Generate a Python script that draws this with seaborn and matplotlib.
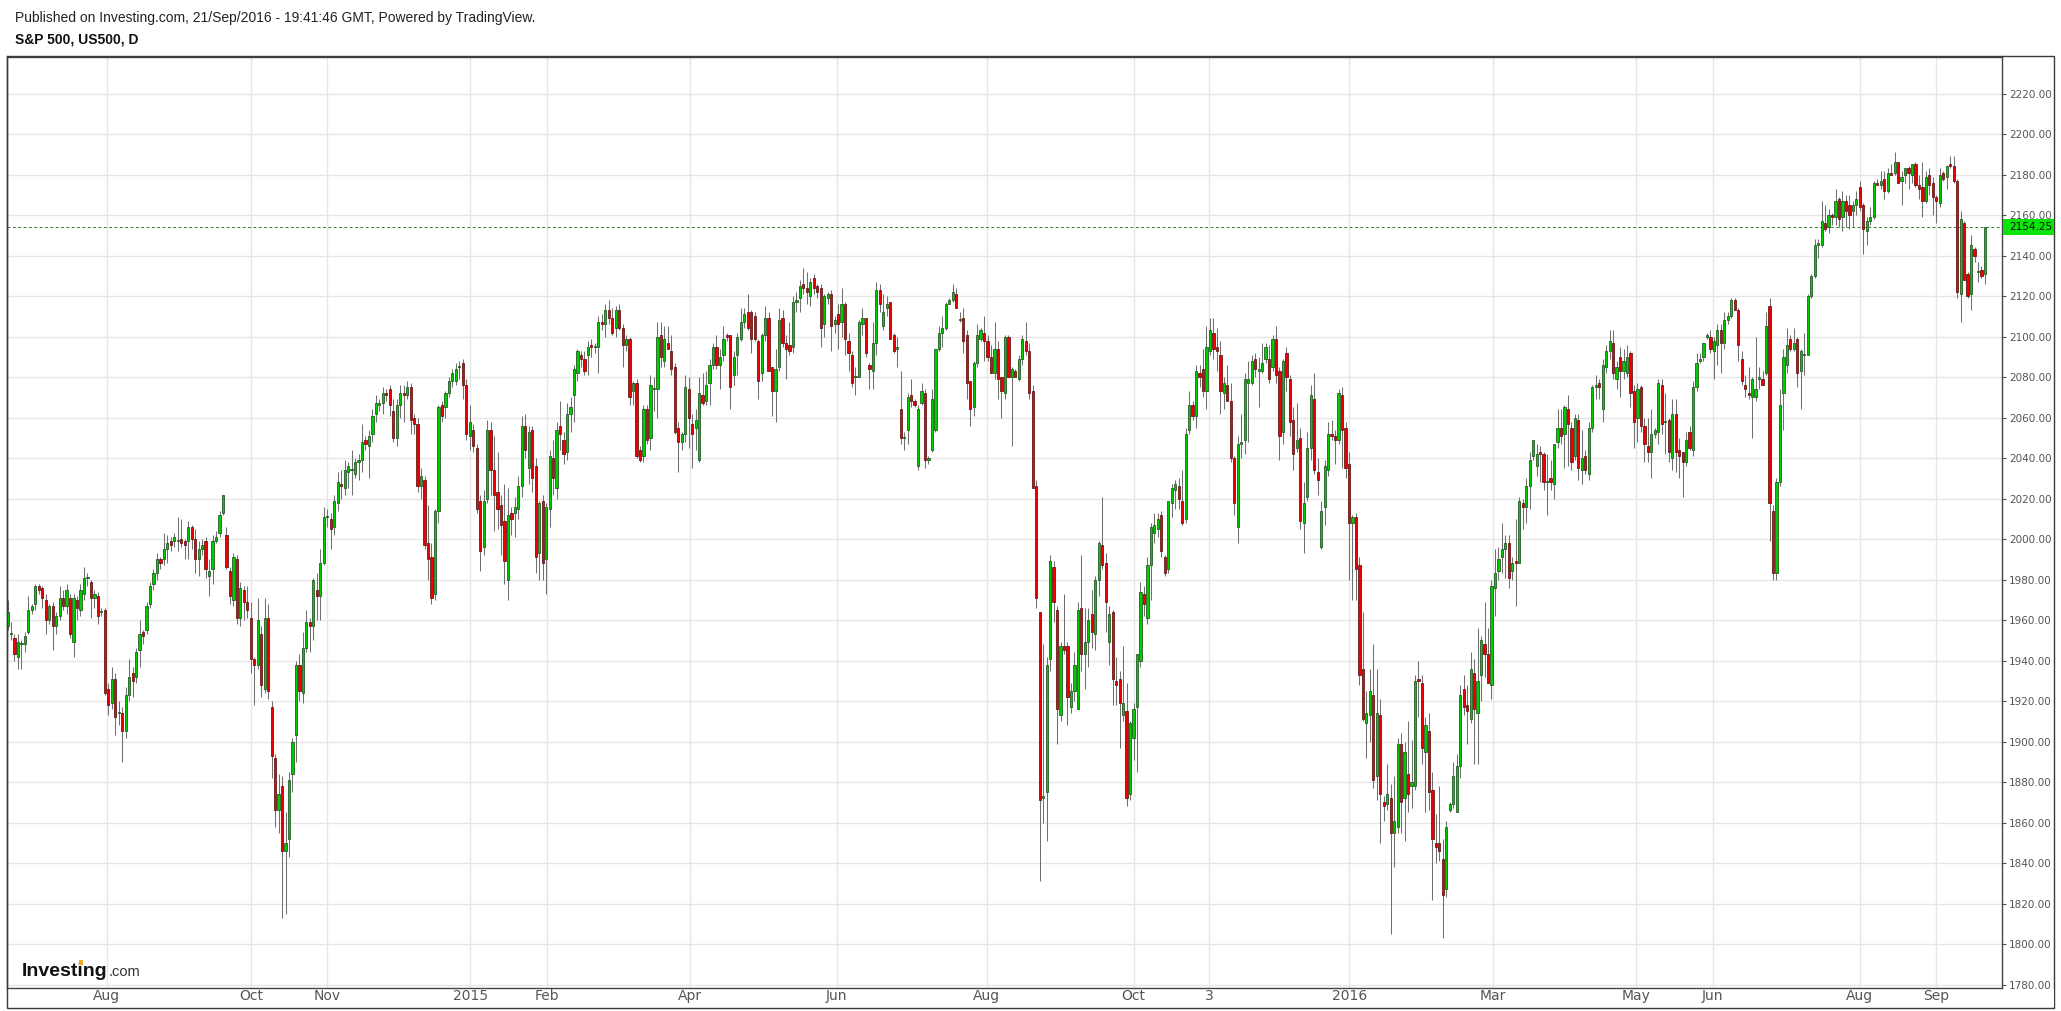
import numpy as np
import pandas as pd
import matplotlib
matplotlib.use("Agg")
import matplotlib.pyplot as plt
import seaborn as sns
from matplotlib.patches import Rectangle

# daily candles, (open, high, low, close), one list per month-gridline span
jun_jul14 = [
    (1957,1970,1955,1964),(1953,1959,1950,1953),(1951,1953,1940,1943),(1942,1953,1936,1949),
    (1948,1950,1936,1948),(1948,1954,1944,1952),(1954,1972,1953,1965),(1965,1968,1963,1967),
    (1968,1978,1965,1977),(1977,1978,1973,1975),(1976,1977,1966,1971),(1970,1973,1953,1960),
    (1960,1968,1958,1967),(1967,1969,1945,1957),(1957,1964,1953,1962),(1962,1977,1960,1971),
    (1971,1975,1965,1967),(1967,1978,1963,1975),(1971,1973,1951,1953),(1949,1973,1942,1971),
    (1970,1972,1960,1966),(1965,1978,1962,1975),(1973,1986,1970,1981),(1981,1983,1977,1981),
    (1979,1980,1961,1971),(1971,1975,1966,1973),(1972,1974,1958,1962),(1964,1966,1962,1964),
    (1965,1966,1923,1924),
]
aug_sep14 = [
    (1926,1929,1913,1918),(1919,1937,1916,1931),(1931,1934,1903,1912),(1914,1920,1908,1914),
    (1914,1917,1890,1905),(1905,1927,1902,1923),(1923,1941,1920,1932),(1934,1937,1922,1930),
    (1932,1946,1929,1944),(1945,1960,1937,1953),(1954,1955,1948,1952),(1955,1969,1953,1967),
    (1968,1979,1966,1977),(1978,1985,1975,1983),(1983,1993,1980,1990),(1990,1991,1985,1988),
    (1990,2003,1987,1995),(1995,2002,1988,1998),(1999,2001,1994,1997),(1999,2003,1996,2001),
    (1999,2011,1994,1999),(2000,2010,1996,1998),(1999,2000,1990,1997),(1999,2009,1990,2006),
    (2006,2007,1995,2000),(2000,2005,1983,1990),(1990,1999,1982,1995),(1995,2000,1992,1997),
    (1999,2001,1981,1985),(1982,1990,1972,1984),(1985,2002,1978,1999),(1999,2004,1998,2001),
    (2003,2014,2001,2012),(2013,2022,2012,2022),(2002,2006,1985,1986),(1984,1986,1968,1972),
    (1970,1993,1967,1991),(1990,1992,1958,1961),(1961,1979,1957,1976),(1975,1977,1960,1969),
    (1969,1977,1961,1965),(1961,1969,1934,1941),
]
oct14 = [
    (1941,1942,1918,1938),(1938,1971,1936,1960),(1953,1957,1922,1928),(1926,1971,1924,1961),
    (1961,1968,1921,1925),(1917,1920,1882,1893),(1892,1894,1858,1866),(1866,1884,1855,1874),
    (1878,1883,1813,1846),(1846,1865,1815,1850),(1852,1885,1843,1881),(1884,1902,1875,1900),
    (1903,1940,1890,1938),(1938,1943,1920,1925),(1924,1954,1919,1946),(1946,1965,1944,1959),
    (1959,1961,1944,1957),(1957,1981,1950,1980),(1975,1983,1960,1972),(1972,1995,1960,1988),
    (1988,2016,1987,2011),
]
nov_dec14 = [
    (2011,2015,2006,2011),(2010,2013,1995,2005),(2006,2022,2002,2019),(2018,2033,2014,2028),
    (2027,2034,2020,2026),(2025,2039,2022,2034),(2033,2038,2025,2036),(2034,2044,2022,2034),
    (2032,2040,2030,2038),(2038,2042,2029,2039),(2039,2057,2033,2048),(2049,2051,2044,2047),
    (2046,2054,2030,2051),(2052,2064,2048,2061),(2062,2071,2058,2067),(2066,2069,2063,2067),
    (2067,2075,2062,2072),(2072,2074,2068,2071),(2074,2076,2061,2066),(2063,2069,2048,2050),
    (2050,2069,2046,2066),(2066,2076,2060,2072),(2072,2076,2058,2071),(2071,2078,2069,2075),
    (2075,2077,2052,2059),(2060,2062,2052,2057),(2057,2060,2023,2026),(2026,2035,2020,2031),
    (2029,2031,1995,1997),(1998,2017,1980,1990),(1991,1998,1968,1971),(1973,2015,1970,2014),
    (2014,2066,2008,2065),(2066,2068,2058,2061),(2065,2073,2060,2072),(2072,2080,2070,2078),
    (2078,2084,2075,2082),(2078,2087,2076,2084),(2085,2088,2079,2085),(2087,2089,2069,2076),
    (2076,2079,2049,2052),(2051,2066,2044,2058),
]
jan15 = [
    (2054,2057,2043,2046),(2045,2047,2013,2015),(2019,2022,1984,1994),(1996,2024,1992,2019),
    (2020,2059,2018,2054),(2054,2058,2022,2034),(2034,2051,2004,2022),(2023,2043,2005,2015),
    (2017,2022,1992,2007),(2009,2027,1978,1989),(1980,2025,1970,2012),(2013,2016,2002,2010),
    (2013,2021,2001,2016),(2015,2031,2010,2026),(2026,2061,2021,2056),(2056,2062,2040,2044),
    (2035,2056,2027,2053),(2054,2056,2023,2030),(2036,2040,1983,1991),(1993,2019,1980,2018),
    (2019,2022,1980,1988),(1990,2018,1973,2016),
]
feb_mar15 = [
    (2015,2044,2006,2041),(2040,2049,2022,2030),(2025,2058,2020,2054),(2056,2068,2044,2052),
    (2049,2053,2037,2042),(2043,2067,2039,2062),(2062,2070,2053,2065),(2071,2086,2058,2084),
    (2082,2094,2078,2093),(2091,2093,2085,2089),(2089,2093,2081,2083),(2091,2098,2081,2095),
    (2096,2099,2090,2095),(2095,2097,2092,2095),(2095,2110,2082,2107),(2107,2111,2103,2106),
    (2106,2116,2100,2113),(2113,2118,2106,2109),(2109,2114,2101,2102),(2104,2115,2100,2113),
    (2113,2116,2103,2104),(2104,2106,2085,2096),(2096,2101,2093,2099),(2099,2100,2066,2070),
    (2073,2078,2066,2077),(2077,2079,2040,2041),(2044,2046,2038,2039),(2041,2066,2038,2064),
    (2064,2066,2047,2049),(2050,2081,2044,2076),(2074,2080,2063,2074),(2074,2107,2060,2100),
    (2101,2107,2085,2090),(2088,2105,2085,2099),(2097,2105,2094,2094),(2093,2101,2081,2084),
    (2085,2087,2052,2053),(2055,2058,2033,2048),(2048,2053,2044,2052),(2052,2081,2048,2075),
    (2074,2080,2045,2060),
]
apr_may15 = [
    (2057,2062,2035,2052),(2055,2064,2044,2059),(2039,2080,2038,2072),(2071,2082,2066,2067),
    (2068,2083,2066,2076),(2077,2089,2066,2086),(2086,2097,2084,2095),(2095,2101,2084,2086),
    (2086,2094,2074,2090),(2091,2105,2088,2099),(2101,2102,2098,2100),(2101,2101,2064,2075),
    (2081,2093,2076,2090),(2091,2102,2081,2100),(2099,2114,2098,2107),(2107,2114,2104,2111),
    (2112,2121,2103,2104),(2112,2113,2092,2099),(2110,2112,2098,2099),(2098,2099,2069,2078),
    (2082,2102,2078,2101),(2101,2115,2098,2109),(2109,2112,2083,2083),(2085,2085,2061,2073),
    (2073,2094,2058,2084),(2085,2114,2083,2108),(2109,2113,2095,2097),(2097,2101,2079,2094),
    (2096,2107,2091,2093),(2095,2120,2092,2117),(2117,2122,2112,2118),(2119,2128,2112,2125),
    (2126,2134,2121,2124),(2124,2132,2116,2122),(2120,2129,2115,2127),(2129,2131,2121,2124),
    (2125,2126,2119,2122),(2124,2126,2095,2104),(2106,2121,2100,2120),(2119,2122,2116,2121),
    (2121,2123,2093,2105),(2106,2110,2102,2108),
]
jun_jul15 = [
    (2111,2116,2094,2106),(2107,2124,2100,2116),(2116,2117,2091,2099),(2098,2102,2083,2092),
    (2091,2093,2075,2077),(2080,2085,2071,2080),(2080,2108,2080,2107),(2106,2114,2101,2109),
    (2109,2109,2090,2092),(2086,2087,2074,2084),(2083,2107,2074,2097),(2097,2127,2091,2123),
    (2123,2126,2112,2116),(2105,2121,2103,2112),(2114,2120,2110,2116),(2117,2117,2099,2099),
    (2101,2102,2092,2093),(2094,2100,2085,2095),(2064,2083,2047,2050),(2050,2053,2044,2050),
    (2054,2072,2047,2070),(2071,2079,2065,2068),(2068,2069,2065,2066),(2036,2066,2034,2064),
    (2067,2077,2066,2073),(2072,2074,2035,2039),(2039,2041,2037,2040),(2044,2074,2043,2069),
    (2054,2094,2053,2094),(2094,2105,2093,2102),(2102,2110,2095,2104),(2104,2117,2103,2116),
    (2116,2119,2116,2118),(2118,2126,2117,2122),(2121,2124,2114,2114),(2108,2112,2107,2108),
    (2109,2114,2092,2098),(2101,2103,2069,2077),(2078,2078,2056,2064),(2065,2088,2061,2087),
    (2087,2106,2085,2101),(2099,2104,2098,2103),(2102,2110,2088,2098),
]
aug_sep15 = [
    (2098,2101,2088,2090),(2090,2096,2082,2082),(2082,2107,2079,2094),(2094,2098,2069,2079),
    (2080,2080,2060,2073),(2072,2101,2069,2100),(2100,2101,2080,2080),(2080,2085,2046,2084),
    (2083,2084,2081,2080),(2079,2091,2078,2089),(2089,2101,2086,2099),(2098,2107,2091,2093),
    (2093,2097,2069,2072),(2073,2076,2025,2025),(2026,2029,1966,1971),(1964,1964,1831,1871),
    (1872,1948,1860,1873),(1875,1942,1851,1938),(1941,1992,1935,1989),(1986,1989,1959,1969),
    (1965,1967,1899,1916),(1913,1949,1910,1947),(1947,1973,1943,1945),(1947,1949,1908,1922),
    (1917,1929,1914,1925),(1925,1944,1920,1938),(1916,1969,1916,1965),(1966,1992,1935,1943),
    (1943,1966,1926,1949),(1949,1966,1937,1960),(1963,1975,1946,1954),(1953,1982,1945,1980),
    (1980,1999,1972,1998),(1997,2021,1985,1987),(1988,1993,1954,1969),(1949,1967,1938,1963),
    (1964,1965,1918,1931),(1930,1942,1918,1928),(1931,1935,1897,1919),(1913,1947,1910,1919),
    (1915,1929,1868,1872),(1874,1910,1871,1909),
]
oct15 = [
    (1902,1919,1891,1916),(1917,1943,1885,1943),(1940,1979,1937,1974),(1973,1977,1962,1968),
    (1961,1991,1958,1987),(1987,2008,1970,2006),(2003,2013,1998,2007),(2005,2013,2001,2010),
    (2012,2014,1991,1994),(1991,1992,1982,1983),(1985,2019,1983,2019),(2018,2027,2011,2025),
    (2024,2029,2015,2027),(2026,2030,2015,2020),(2019,2034,2007,2008),(2010,2055,2008,2052),
    (2054,2073,2052,2066),(2066,2068,2059,2061),(2061,2086,2055,2083),(2082,2086,2075,2080),
    (2084,2094,2070,2073),(2073,2105,2064,2095),
]
nov_dec15 = [
    (2093,2109,2091,2103),(2102,2109,2089,2094),(2095,2104,2083,2093),(2091,2098,2062,2073),
    (2072,2080,2064,2077),(2076,2086,2068,2068),(2068,2077,2038,2040),(2040,2041,2012,2018),
    (2006,2051,1998,2047),(2047,2062,2040,2048),(2049,2082,2042,2079),(2077,2088,2048,2079),
    (2077,2091,2076,2088),(2089,2092,2080,2084),(2083,2090,2065,2084),(2083,2097,2082,2087),
    (2089,2097,2087,2095),(2089,2096,2077,2079),(2085,2101,2083,2099),(2099,2105,2077,2081),
    (2083,2085,2039,2051),(2053,2089,2047,2088),(2092,2095,2073,2080),(2079,2081,2051,2058),
    (2059,2065,2034,2042),(2045,2067,2043,2049),(2050,2055,2005,2009),(2008,2028,1993,2018),
    (2021,2053,2019,2045),(2045,2076,2039,2071),(2069,2082,2032,2034),(2033,2040,2022,2029),
    (1996,2019,1995,2014),(2016,2039,2007,2036),(2034,2058,2031,2052),(2052,2059,2049,2051),
    (2051,2054,2037,2049),(2049,2074,2047,2072),(2071,2075,2035,2054),(2055,2058,2030,2035),
]
jan_feb16 = [
    (2037,2043,1980,2008),(2008,2012,1970,2011),(2011,2013,1970,1985),(1987,1991,1928,1933),
    (1936,1964,1910,1911),(1909,1925,1892,1914),(1913,1936,1900,1925),(1923,1948,1877,1881),
    (1883,1936,1871,1914),(1913,1921,1850,1874),(1870,1873,1861,1868),(1869,1889,1866,1874),
    (1872,1879,1805,1855),(1855,1883,1838,1861),(1858,1902,1855,1899),(1899,1904,1855,1870),
    (1872,1900,1851,1895),(1884,1910,1865,1874),(1878,1901,1867,1880),(1878,1933,1876,1930),
    (1931,1940,1912,1930),(1929,1933,1889,1897),(1895,1912,1865,1908),(1905,1914,1866,1875),
    (1876,1885,1822,1852),(1850,1864,1840,1848),(1850,1878,1841,1846),(1842,1852,1803,1824),
    (1827,1861,1823,1858),(1866,1870,1865,1869),(1869,1890,1867,1883),(1865,1894,1865,1888),
    (1888,1928,1882,1923),(1926,1933,1913,1917),(1918,1928,1899,1915),(1911,1944,1909,1936),
    (1934,1941,1889,1916),(1914,1956,1889,1930),(1933,1952,1920,1950),(1948,1969,1932,1943),
    (1943,1956,1929,1929),
]
mar_apr16 = [
    (1928,1980,1921,1977),(1976,1995,1962,1983),(1984,1996,1980,1990),(1991,2008,1983,1995),
    (1995,2002,1981,1998),(1998,2002,1976,1981),(1984,1991,1980,1988),(1989,2010,1967,1988),
    (1988,2021,1988,2019),(2018,2020,2005,2016),(2016,2030,2008,2026),(2026,2043,2015,2039),
    (2041,2049,2039,2049),(2036,2047,2031,2042),(2043,2046,2028,2042),(2042,2043,2024,2028),
    (2028,2042,2012,2028),(2030,2039,2024,2028),(2027,2047,2020,2047),(2048,2064,2045,2055),
    (2055,2064,2047,2051),(2052,2066,2035,2065),(2064,2071,2036,2057),(2055,2058,2034,2038),
    (2041,2062,2039,2060),(2059,2062,2029,2035),(2034,2054,2027,2040),(2041,2044,2032,2034),
    (2032,2058,2029,2055),(2055,2076,2053,2075),(2075,2081,2069,2076),(2077,2079,2069,2075),
    (2064,2089,2058,2086),(2085,2096,2082,2093),(2093,2103,2089,2098),(2097,2103,2079,2082),
    (2079,2088,2074,2085),(2090,2095,2070,2083),(2083,2094,2079,2088),(2082,2096,2080,2090),
    (2092,2093,2065,2072),(2073,2076,2045,2058),
]
may16 = [
    (2060,2077,2048,2074),(2075,2076,2053,2056),(2056,2060,2038,2047),(2046,2060,2038,2043),
    (2043,2064,2030,2052),(2052,2055,2050,2054),(2053,2079,2047,2077),(2076,2079,2052,2057),
    (2058,2072,2042,2058),(2059,2060,2038,2043),(2040,2069,2034,2062),(2062,2069,2033,2043),
    (2044,2050,2030,2041),(2043,2043,2021,2038),(2038,2053,2036,2049),(2053,2056,2044,2045),
    (2044,2078,2041,2075),(2075,2092,2073,2087),(2088,2092,2087,2089),(2090,2097,2088,2097),
    (2100,2102,2099,2101),(2100,2103,2092,2094),
]
jun_jul16 = [
    (2093,2100,2079,2098),(2096,2106,2086,2103),(2103,2106,2082,2097),(2097,2112,2094,2108),
    (2108,2112,2106,2110),(2110,2119,2109,2118),(2118,2119,2113,2113),(2113,2114,2088,2096),
    (2089,2093,2076,2078),(2076,2081,2070,2074),(2072,2085,2069,2071),(2070,2080,2050,2079),
    (2070,2100,2068,2074),(2079,2085,2074,2080),(2079,2083,2076,2076),(2082,2112,2081,2105),
    (2115,2119,1999,2018),(2014,2017,1980,1983),(1983,2030,1980,2028),(2028,2074,2026,2066),
    (2072,2094,2054,2090),(2086,2104,2082,2096),(2099,2101,2093,2094),(2094,2104,2093,2097),
    (2099,2100,2075,2082),(2083,2094,2064,2093),(2091,2102,2081,2091),(2091,2121,2091,2120),
    (2120,2131,2119,2130),(2130,2148,2129,2145),(2145,2148,2139,2146),(2145,2167,2144,2157),
    (2156,2165,2152,2153),(2154,2163,2151,2160),(2160,2161,2155,2159),(2159,2173,2155,2167),
    (2168,2169,2154,2158),(2159,2172,2152,2167),(2167,2170,2154,2162),(2165,2170,2153,2160),
    (2162,2167,2154,2165),(2165,2172,2160,2168),
]
aug16 = [
    (2174,2177,2162,2164),(2165,2166,2141,2153),(2152,2159,2145,2157),(2157,2164,2155,2159),
    (2159,2177,2158,2176),(2176,2178,2175,2175),(2175,2182,2173,2177),(2178,2182,2168,2172),
    (2172,2183,2171,2181),(2181,2185,2180,2180),(2181,2191,2180,2186),(2186,2186,2176,2176),
    (2177,2182,2165,2179),(2180,2183,2176,2183),(2183,2184,2173,2181),(2180,2185,2176,2185),
    (2185,2186,2174,2175),(2175,2180,2168,2173),(2174,2186,2159,2167),(2167,2182,2166,2179),
    (2180,2183,2170,2175),(2176,2179,2160,2169),(2169,2170,2156,2167),
]
sep16 = [
    (2166,2183,2164,2180),(2181,2182,2177,2178),(2179,2184,2173,2184),(2185,2189,2183,2184),
    (2184,2189,2176,2177),(2177,2178,2119,2122),(2121,2162,2107,2158),(2156,2157,2128,2128),
    (2131,2132,2119,2120),(2121,2150,2113,2145),(2143,2144,2137,2140),(2132,2137,2127,2132),
    (2133,2135,2129,2130),(2131,2154,2126,2154.25),
]

# month gridlines, in bar units, and their labels as printed under the axis
month_ticks = [28.6, 70.1, 91.9, 133.2, 155.2, 196.5, 238.6, 281.8,
               324.0, 345.8, 386.1, 427.3, 468.7, 490.7, 532.9, 554.9]
month_labels = ["Aug", "Oct", "Nov", "2015", "Feb", "Apr", "Jun", "Aug",
                "Oct", "3", "2016", "Mar", "May", "Jun", "Aug", "Sep"]
price_ticks = list(range(1780, 2221, 20))
last_price = 2154.25

segments = [jun_jul14, aug_sep14, oct14, nov_dec14, jan15, feb_mar15, apr_may15,
            jun_jul15, aug_sep15, oct15, nov_dec15, jan_feb16, mar_apr16, may16,
            jun_jul16, aug16, sep16]
df = pd.DataFrame([c for seg in segments for c in seg],
                  columns=["open", "high", "low", "close"])
df["x"] = np.arange(len(df))
df["up"] = df["close"] >= df["open"]
print("bars:", len(df))

W, H = 2061, 1011


def fx(px):
    return px / W


def fy(py):
    return 1 - py / H


sns.set_theme(style="white")
plt.rcParams["font.family"] = ["Liberation Sans", "DejaVu Sans"]

fig = plt.figure(figsize=(W / 100, H / 100), dpi=100)
fig.patch.set_facecolor("white")
ax = fig.add_axes([fx(6.5), fy(988), fx(2002) - fx(6.5), fy(56.5) - fy(988)])
ax.set_facecolor("white")

# wicks then bodies
lo = df[["low", "open", "close"]].min(axis=1)
hi = df[["high", "open", "close"]].max(axis=1)
ax.vlines(df["x"], lo, hi, color="#707070", lw=0.75, zorder=2)

body_lo = df[["open", "close"]].min(axis=1)
body_h = (df["close"] - df["open"]).abs().clip(lower=0.5)
fill = np.where(df["up"], "#00cc00", "#ee0000")
edge = np.where(df["up"], "#1f4f1f", "#5a1212")
ax.bar(df["x"], body_h, bottom=body_lo, width=0.64, color=fill,
       edgecolor=edge, linewidth=0.55, zorder=3)

ax.axhline(last_price, color="#2f7f2f", lw=0.7, ls=(0, (3, 2.5)), zorder=1)

ax.set_xlim(-0.29, 573.9)
ax.set_ylim(1778.3, 2238.3)
ax.yaxis.tick_right()
ax.set_yticks(price_ticks)
ax.set_yticklabels([f"{p:.2f}" for p in price_ticks])
ax.set_xticks(month_ticks)
ax.set_xticklabels(month_labels)
ax.grid(True, color="#e6e6e6", lw=1.0, zorder=0)
ax.set_axisbelow(True)
ax.tick_params(axis="y", length=3, width=0.8, color="#555555", pad=2,
               labelsize=7.5, labelcolor="#555555")
ax.tick_params(axis="x", length=0, pad=1, labelsize=10, labelcolor="#555555")
for lab in ax.get_yticklabels():
    lab.set_family("DejaVu Sans")
for lab in ax.get_xticklabels():
    lab.set_family(["Liberation Sans Narrow", "DejaVu Sans"])

for s in ["left", "top", "right", "bottom"]:
    ax.spines[s].set_visible(True)
    ax.spines[s].set_linewidth(1.0)
    ax.spines[s].set_color("#444444")

# outer frame around chart + price scale + time scale
fig.add_artist(Rectangle((fx(6.5), fy(1008)), fx(2054) - fx(6.5), fy(56.5) - fy(1008),
                         transform=fig.transFigure, fill=False, ec="#3a3a3a", lw=1.0, zorder=4))
# the time scale hides the lower half of the lowest price label
fig.add_artist(Rectangle((fx(2003), fy(1007)), fx(2053.5) - fx(2003), fy(988.6) - fy(1007),
                         transform=fig.transFigure, fc="white", ec="none", zorder=5))

fig.text(fx(15), fy(18), "Published on Investing.com, 21/Sep/2016 - 19:41:46 GMT, Powered by TradingView.",
         fontsize=10, va="center", ha="left", color="#222222")
fig.text(fx(15), fy(39.5), "S&P 500, US500, D", fontsize=10, fontweight="bold",
         va="center", ha="left", color="#111111")

fig.canvas.draw()

# last price tag on the price scale
ypix = ax.transData.transform((0, last_price))[1]
fig.add_artist(Rectangle((fx(2002.5), (ypix - 8) / H), fx(2054) - fx(2002.5), 16 / H,
                         transform=fig.transFigure, fc="#0be30b", ec="none", zorder=6))
fig.text(fx(2009), ypix / H, f"{last_price:.2f}", fontsize=7.5, family="DejaVu Sans",
         va="center", ha="left", color="#111111", zorder=7)

# Investing.com logo
logo = fig.text(fx(22), fy(976), "Investing", fontsize=14, fontweight="bold",
                va="baseline", ha="left", color="#111111")
probe = fig.text(fx(22), fy(976), "Invest", fontsize=14, fontweight="bold",
                 va="baseline", ha="left", color="none")
fig.canvas.draw()
bb = logo.get_window_extent()
pb = probe.get_window_extent()
probe.remove()
fig.text((bb.x1 + 1) / W, fy(976), ".com", fontsize=10.5, va="baseline", ha="left", color="#333333")
fig.add_artist(Rectangle(((pb.x1 + 0.6) / W, fy(964.5)), 4.2 / W, 4.5 / H,
                         transform=fig.transFigure, fc="#f5a623", ec="none", zorder=8))

fig.savefig("out.png", dpi=100, facecolor="white")
